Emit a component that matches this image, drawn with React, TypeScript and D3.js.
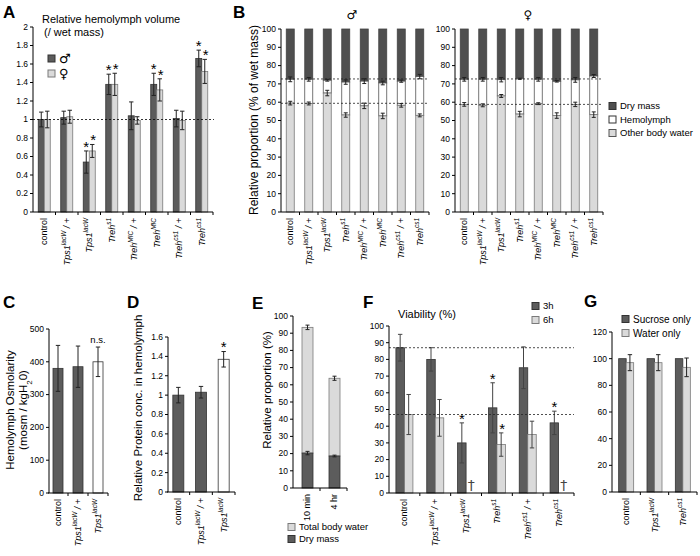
import React from "react";
import * as d3 from "d3";

const FONT = "Liberation Sans, Arial, sans-serif";
const DARK = "#5c5c5c";
const DARK_STROKE = "#333333";
const LIGHT = "#dadada";
const LIGHT_STROKE = "#7a7a7a";
const WHITE = "#ffffff";

// ---------- label parts ----------
const LABELS: Record<string, [string, string, string]> = {
  control: ["control", "", ""],
  "Tps1lacW / +": ["Tps1", "lacW", " / +"],
  Tps1lacW: ["Tps1", "lacW", ""],
  Trehs1: ["Treh", "s1", ""],
  "TrehMIC / +": ["Treh", "MIC", " / +"],
  TrehMIC: ["Treh", "MIC", ""],
  "Trehcs1 / +": ["Treh", "cs1", " / +"],
  Trehcs1: ["Treh", "cs1", ""],
  "10 min": ["10 min", "", ""],
  "4 hr": ["4 hr", "", ""],
};

// ---------- Panel A ----------
const catsA = ["control", "Tps1lacW / +", "Tps1lacW", "Trehs1", "TrehMIC / +", "TrehMIC", "Trehcs1 / +", "Trehcs1"];
const maleA = [1.0, 1.02, 0.54, 1.38, 1.04, 1.38, 1.01, 1.66];
const maleErrA = [0.08, 0.07, 0.12, 0.11, 0.15, 0.12, 0.09, 0.09];
const femaleA = [1.0, 1.03, 0.66, 1.38, 0.99, 1.32, 0.99, 1.52];
const femaleErrA = [0.09, 0.07, 0.07, 0.12, 0.04, 0.12, 0.1, 0.13];
const starsMaleA = [false, false, true, true, false, true, false, true];
const starsFemaleA = [false, false, true, true, false, true, false, true];
const ticksA = [0, 0.2, 0.4, 0.6, 0.8, 1, 1.2, 1.4, 1.6, 1.8, 2];

// ---------- Panel B ----------
const catsB = catsA;
const maleOther = [59.5, 59.3, 65.0, 53.0, 58.0, 52.5, 58.3, 52.8];
const maleOtherErr = [1.0, 0.8, 1.5, 1.2, 1.5, 1.5, 1.0, 0.8];
const maleHemoTop = [72.5, 72.5, 72.0, 71.0, 71.5, 70.5, 71.5, 74.0];
const maleHemoErr = [1.3, 1.0, 0.5, 1.2, 1.3, 1.0, 0.6, 1.2];
const femaleOther = [58.8, 58.3, 63.4, 53.5, 59.2, 52.7, 58.8, 53.2];
const femaleOtherErr = [1.0, 0.8, 0.8, 1.5, 0.5, 1.5, 1.2, 1.5];
const femaleHemoTop = [72.5, 72.5, 72.3, 72.8, 72.5, 71.4, 72.2, 74.3];
const femaleHemoErr = [1.0, 1.0, 1.2, 0.3, 1.0, 0.4, 1.3, 0.8];
const refMaleB = [72.7, 59.4];
const refFemaleB = [72.7, 58.8];
const ticksB = [0, 10, 20, 30, 40, 50, 60, 70, 80, 90, 100];

// ---------- Panel C ----------
const catsC = ["control", "Tps1lacW / +", "Tps1lacW"];
const valsC = [380, 385, 400];
const errC = [70, 63, 45];
const ticksC = [0, 100, 200, 300, 400, 500];

// ---------- Panel D ----------
const catsD = ["control", "Tps1lacW / +", "Tps1lacW"];
const valsD = [1.0, 1.03, 1.37];
const errD = [0.08, 0.06, 0.08];
const ticksD = [0, 0.2, 0.4, 0.6, 0.8, 1, 1.2, 1.4, 1.6];

// ---------- Panel E ----------
const catsE = ["10 min", "4 hr"];
const dryE = [20.3, 18.6];
const dryErrE = [1.0, 0.5];
const totalE = [93.4, 63.8];
const totalErrE = [1.3, 1.2];
const ticksE = [0, 10, 20, 30, 40, 50, 60, 70, 80, 90, 100];

// ---------- Panel F ----------
const catsF = ["control", "Tps1lacW / +", "Tps1lacW", "Trehs1", "Trehcs1 / +", "Trehcs1"];
const h3F = [87, 80, 30, 51, 75, 42];
const h3ErrF = [8, 7, 12, 15, 12.5, 7];
const h6F = [47, 45, 0, 29, 35, 0];
const h6ErrF = [12, 11, 0, 7, 8, 0];
const stars3F = [false, false, true, true, false, true];
const stars6F = [false, false, false, true, false, false];
const dagger6F = [false, false, true, false, false, true];
const refF = [87, 47];
const ticksF = [0, 10, 20, 30, 40, 50, 60, 70, 80, 90, 100];

// ---------- Panel G ----------
const catsG = ["control", "Tps1lacW", "Trehcs1"];
const sucroseG = [100, 100, 100];
const waterG = [97, 97, 93.5];
const waterErrG = [6, 6, 7];
const ticksG = [0, 20, 40, 60, 80, 100, 120];

type Lin = d3.ScaleLinear<number, number>;
type Band = d3.ScaleBand<string>;

function XLabel({ x, y, name, fs = 9 }: { x: number; y: number; name: string; fs?: number }) {
  const parts = LABELS[name] || [name, "", ""];
  const [b, s, t] = parts;
  const italic = s !== "";
  return (
    <text
      transform={`translate(${x},${y}) rotate(-90)`}
      textAnchor="end"
      dominantBaseline="central"
      fontSize={fs}
      fontStyle={italic ? "italic" : "normal"}
    >
      {b}
      {s && (
        <tspan baselineShift="super" fontSize={fs * 0.72}>
          {s}
        </tspan>
      )}
      {t && <tspan>{t}</tspan>}
    </text>
  );
}

function YAxis({ x, scale, ticks, fs = 8.5 }: { x: number; scale: Lin; ticks: number[]; fs?: number }) {
  const [r0, r1] = scale.range();
  return (
    <g>
      <line x1={x} x2={x} y1={r0} y2={r1} stroke="#000" strokeWidth={1} />
      {ticks.map((t) => (
        <g key={t}>
          <line x1={x - 3} x2={x} y1={scale(t)} y2={scale(t)} stroke="#000" />
          <text x={x - 5} y={scale(t)} dy="0.34em" textAnchor="end" fontSize={fs}>
            {String(t)}
          </text>
        </g>
      ))}
    </g>
  );
}

function XAxis({ band, y, fs = 9 }: { band: Band; y: number; fs?: number }) {
  const [a, b] = band.range();
  const step = band.step();
  const dom = band.domain();
  return (
    <g>
      <line x1={a} x2={b} y1={y} y2={y} stroke="#000" />
      {dom.map((d, i) => (
        <line key={"t" + d} x1={a + step * (i + 1)} x2={a + step * (i + 1)} y1={y} y2={y + 3} stroke="#000" />
      ))}
      {dom.map((d) => (
        <XLabel key={d} x={(band(d) as number) + band.bandwidth() / 2} y={y + 6} name={d} fs={fs} />
      ))}
    </g>
  );
}

function ErrBar({ x, y, lo, hi, cap = 2.2, color = "#222" }: { x: number; y: Lin; lo: number; hi: number; cap?: number; color?: string }) {
  return (
    <g stroke={color} strokeWidth={1}>
      <line x1={x} x2={x} y1={y(lo)} y2={y(hi)} />
      <line x1={x - cap} x2={x + cap} y1={y(lo)} y2={y(lo)} />
      <line x1={x - cap} x2={x + cap} y1={y(hi)} y2={y(hi)} />
    </g>
  );
}

function Star({ x, y, fs = 15 }: { x: number; y: number; fs?: number }) {
  return (
    <text x={x} y={y + 1} textAnchor="middle" fontSize={fs}>
      *
    </text>
  );
}

function Swatch({ x, y, fill, stroke, label, fs = 10, size = 8, labelFont }: { x: number; y: number; fill: string; stroke: string; label: string; fs?: number; size?: number; labelFont?: string }) {
  return (
    <g>
      <rect x={x} y={y - size / 2} width={size} height={size} fill={fill} stroke={stroke} />
      <text x={x + size + 4} y={y} dy="0.35em" fontSize={fs} fontFamily={labelFont}>
        {label}
      </text>
    </g>
  );
}

const SYM_FONT = "DejaVu Sans, sans-serif";

function PanelA() {
  const x = d3.scaleBand<string>().domain(catsA).range([33, 213]);
  const y = d3.scaleLinear().domain([0, 2]).range([212, 27]);
  const w = 6;
  return (
    <g>
      <text x={42} y={23} fontSize={11}>Relative hemolymph volume</text>
      <text x={44} y={36} fontSize={11}>(/ wet mass)</text>
      <Swatch x={48} y={58.5} fill={DARK} stroke={DARK_STROKE} label="♂" size={7} fs={13} labelFont={SYM_FONT} />
      <Swatch x={48} y={73.5} fill={LIGHT} stroke={LIGHT_STROKE} label="♀" size={7} fs={13} labelFont={SYM_FONT} />
      {catsA.map((c, i) => {
        const cx = (x(c) as number) + x.bandwidth() / 2;
        return (
          <g key={c}>
            <rect x={cx - w} y={y(maleA[i])} width={w} height={y(0) - y(maleA[i])} fill={DARK} stroke={DARK_STROKE} strokeWidth={0.8} />
            <rect x={cx} y={y(femaleA[i])} width={w} height={y(0) - y(femaleA[i])} fill={LIGHT} stroke={LIGHT_STROKE} strokeWidth={0.8} />
            <ErrBar x={cx - w / 2} y={y} lo={maleA[i] - maleErrA[i]} hi={maleA[i] + maleErrA[i]} />
            <ErrBar x={cx + w / 2} y={y} lo={femaleA[i] - femaleErrA[i]} hi={femaleA[i] + femaleErrA[i]} />
            {starsMaleA[i] && <Star x={cx - w / 2} y={y(maleA[i] + maleErrA[i])} />}
            {starsFemaleA[i] && <Star x={cx + w / 2 + 1} y={y(femaleA[i] + femaleErrA[i])} />}
          </g>
        );
      })}
      <line x1={33} x2={214} y1={y(1)} y2={y(1)} stroke="#000" strokeDasharray="2,2" strokeWidth={0.8} />
      <YAxis x={33} scale={y} ticks={ticksA} />
      <XAxis band={x} y={212} />
    </g>
  );
}

function StackB({ x0, x1, other, otherErr, hemo, hemoErr, refs, sym, symX }: { x0: number; x1: number; other: number[]; otherErr: number[]; hemo: number[]; hemoErr: number[]; refs: number[]; sym: string; symX: number }) {
  const x = d3.scaleBand<string>().domain(catsB).range([x0, x1]);
  const y = d3.scaleLinear().domain([0, 100]).range([212, 29]);
  const w = 8;
  return (
    <g>
      <text x={symX} y={19} fontSize={12} textAnchor="middle" fontFamily={SYM_FONT}>{sym}</text>
      {catsB.map((c, i) => {
        const cx = (x(c) as number) + x.bandwidth() / 2;
        return (
          <g key={c}>
            <rect x={cx - w / 2} y={y(100)} width={w} height={y(hemo[i]) - y(100)} fill="#4f4f4f" stroke="#444" strokeWidth={0.8} />
            <rect x={cx - w / 2} y={y(hemo[i])} width={w} height={y(other[i]) - y(hemo[i])} fill={WHITE} stroke="#555" strokeWidth={0.8} />
            <rect x={cx - w / 2} y={y(other[i])} width={w} height={y(0) - y(other[i])} fill={LIGHT} stroke={LIGHT_STROKE} strokeWidth={0.8} />
            <ErrBar x={cx} y={y} lo={hemo[i] - hemoErr[i]} hi={hemo[i] + hemoErr[i]} cap={2} />
            <ErrBar x={cx} y={y} lo={other[i] - otherErr[i]} hi={other[i] + otherErr[i]} cap={2} />
          </g>
        );
      })}
      {refs.map((r) => (
        <line key={r} x1={x0} x2={x1} y1={y(r)} y2={y(r)} stroke="#222" strokeDasharray="2,2" strokeWidth={0.8} />
      ))}
      <YAxis x={x0} scale={y} ticks={ticksB} />
      <XAxis band={x} y={212} />
    </g>
  );
}

function PanelB() {
  return (
    <g>
      <text transform="translate(258,120) rotate(-90)" textAnchor="middle" fontSize={12}>
        Relative proportion (% of wet mass)
      </text>
      <StackB x0={281} x1={429} other={maleOther} otherErr={maleOtherErr} hemo={maleHemoTop} hemoErr={maleHemoErr} refs={refMaleB} sym="♂" symX={352} />
      <StackB x0={455} x1={603} other={femaleOther} otherErr={femaleOtherErr} hemo={femaleHemoTop} hemoErr={femaleHemoErr} refs={refFemaleB} sym="♀" symX={528} />
      <Swatch x={609} y={106} fill="#4f4f4f" stroke="#333" label="Dry mass" size={7} fs={9.5} />
      <Swatch x={609} y={119.5} fill={WHITE} stroke="#333" label="Hemolymph" size={7} fs={9.5} />
      <Swatch x={609} y={133} fill={LIGHT} stroke="#555" label="Other body water" size={7} fs={9.5} />
    </g>
  );
}

function PanelC() {
  const x = d3.scaleBand<string>().domain(catsC).range([48, 108]);
  const y = d3.scaleLinear().domain([0, 500]).range([493, 329]);
  const w = 10;
  const fills = [DARK, DARK, WHITE];
  return (
    <g>
      <text transform="translate(14,410) rotate(-90)" textAnchor="middle" fontSize={11.5}>Hemolymph Osmolarity</text>
      <text transform="translate(27,410) rotate(-90)" textAnchor="middle" fontSize={11.5}>
        (mosm / kgH<tspan baselineShift="sub" fontSize={8}>2</tspan>0)
      </text>
      {catsC.map((c, i) => {
        const cx = (x(c) as number) + x.bandwidth() / 2;
        return (
          <g key={c}>
            <rect x={cx - w / 2} y={y(valsC[i])} width={w} height={y(0) - y(valsC[i])} fill={fills[i]} stroke={DARK_STROKE} strokeWidth={0.8} />
            <ErrBar x={cx} y={y} lo={valsC[i] - errC[i]} hi={valsC[i] + errC[i]} />
          </g>
        );
      })}
      <text x={98} y={343} textAnchor="middle" fontSize={9.5}>n.s.</text>
      <YAxis x={49} scale={y} ticks={ticksC} />
      <XAxis band={x} y={493} />
    </g>
  );
}

function PanelD() {
  const x = d3.scaleBand<string>().domain(catsD).range([167, 235]);
  const y = d3.scaleLinear().domain([0, 1.6]).range([492, 337]);
  const w = 11;
  const fills = [DARK, DARK, WHITE];
  return (
    <g>
      <text transform="translate(142,408) rotate(-90)" textAnchor="middle" fontSize={11.5}>Relative Protein conc. in hemolymph</text>
      {catsD.map((c, i) => {
        const cx = (x(c) as number) + x.bandwidth() / 2;
        return (
          <g key={c}>
            <rect x={cx - w / 2} y={y(valsD[i])} width={w} height={y(0) - y(valsD[i])} fill={fills[i]} stroke={DARK_STROKE} strokeWidth={0.8} />
            <ErrBar x={cx} y={y} lo={valsD[i] - errD[i]} hi={valsD[i] + errD[i]} />
          </g>
        );
      })}
      <Star x={(x(catsD[2]) as number) + x.bandwidth() / 2} y={y(valsD[2] + errD[2]) - 1} />
      <YAxis x={168} scale={y} ticks={ticksD} />
      <XAxis band={x} y={492} />
    </g>
  );
}

function PanelE() {
  const x = d3.scaleBand<string>().domain(catsE).range([293, 347]);
  const y = d3.scaleLinear().domain([0, 100]).range([488, 316]);
  const w = 11;
  return (
    <g>
      <text transform="translate(271,390) rotate(-90)" textAnchor="middle" fontSize={11.5}>Relative proportion (%)</text>
      {catsE.map((c, i) => {
        const cx = (x(c) as number) + x.bandwidth() / 2 + 1;
        return (
          <g key={c}>
            <rect x={cx - w / 2} y={y(totalE[i])} width={w} height={y(dryE[i]) - y(totalE[i])} fill={LIGHT} stroke={LIGHT_STROKE} strokeWidth={0.8} />
            <rect x={cx - w / 2} y={y(dryE[i])} width={w} height={y(0) - y(dryE[i])} fill={DARK} stroke={DARK_STROKE} strokeWidth={0.8} />
            <ErrBar x={cx} y={y} lo={totalE[i] - totalErrE[i]} hi={totalE[i] + totalErrE[i]} cap={2} />
            <ErrBar x={cx} y={y} lo={dryE[i] - dryErrE[i]} hi={dryE[i] + dryErrE[i]} cap={2} />
          </g>
        );
      })}
      <YAxis x={293} scale={y} ticks={ticksE} />
      <XAxis band={x} y={488} fs={9} />
      <Swatch x={288} y={527} fill={LIGHT} stroke={LIGHT_STROKE} label="Total body water" size={7} fs={9.5} />
      <Swatch x={288} y={539} fill={DARK} stroke={DARK_STROKE} label="Dry mass" size={7} fs={9.5} />
    </g>
  );
}

function PanelF() {
  const x = d3.scaleBand<string>().domain(catsF).range([389, 574]);
  const y = d3.scaleLinear().domain([0, 100]).range([493, 326]);
  const w = 8.5;
  return (
    <g>
      <text x={398} y={318} fontSize={11}>Viability (%)</text>
      <Swatch x={532} y={306} fill={DARK} stroke={DARK_STROKE} label="3h" size={7} fs={9.5} />
      <Swatch x={532} y={320} fill={LIGHT} stroke={LIGHT_STROKE} label="6h" size={7} fs={9.5} />
      {catsF.map((c, i) => {
        const cx = (x(c) as number) + x.bandwidth() / 2;
        return (
          <g key={c}>
            <rect x={cx - w} y={y(h3F[i])} width={w} height={y(0) - y(h3F[i])} fill={DARK} stroke={DARK_STROKE} strokeWidth={0.8} />
            {h6F[i] > 0 && <rect x={cx} y={y(h6F[i])} width={w} height={y(0) - y(h6F[i])} fill={LIGHT} stroke={LIGHT_STROKE} strokeWidth={0.8} />}
            <ErrBar x={cx - w / 2} y={y} lo={h3F[i] - h3ErrF[i]} hi={h3F[i] + h3ErrF[i]} color="#444" />
            {h6F[i] > 0 && <ErrBar x={cx + w / 2} y={y} lo={h6F[i] - h6ErrF[i]} hi={h6F[i] + h6ErrF[i]} color="#444" />}
            {stars3F[i] && <Star x={cx - w / 2} y={y(h3F[i] + h3ErrF[i])} />}
            {stars6F[i] && <Star x={cx + w / 2 + 1} y={y(h6F[i] + h6ErrF[i])} />}
            {dagger6F[i] && (
              <text x={cx + w / 2 + 1} y={y(0) - 3} textAnchor="middle" fontSize={14} fill="#444" fontFamily={SYM_FONT}>†</text>
            )}
          </g>
        );
      })}
      {refF.map((r) => (
        <line key={r} x1={389} x2={574} y1={y(r)} y2={y(r)} stroke="#222" strokeDasharray="2,2" strokeWidth={0.8} />
      ))}
      <YAxis x={389} scale={y} ticks={ticksF} />
      <XAxis band={x} y={493} />
    </g>
  );
}

function PanelG() {
  const x = d3.scaleBand<string>().domain(catsG).range([612, 697]);
  const y = d3.scaleLinear().domain([0, 120]).range([492, 332]);
  const w = 7.5;
  return (
    <g>
      <Swatch x={622} y={319} fill={DARK} stroke={DARK_STROKE} label="Sucrose only" size={7} fs={10} />
      <Swatch x={622} y={333} fill={LIGHT} stroke={LIGHT_STROKE} label="Water only" size={7} fs={10} />
      {catsG.map((c, i) => {
        const cx = (x(c) as number) + x.bandwidth() / 2;
        return (
          <g key={c}>
            <rect x={cx - w} y={y(sucroseG[i])} width={w} height={y(0) - y(sucroseG[i])} fill={DARK} stroke={DARK_STROKE} strokeWidth={0.8} />
            <rect x={cx} y={y(waterG[i])} width={w} height={y(0) - y(waterG[i])} fill={LIGHT} stroke={LIGHT_STROKE} strokeWidth={0.8} />
            <ErrBar x={cx + w / 2} y={y} lo={waterG[i] - waterErrG[i]} hi={waterG[i] + waterErrG[i]} />
          </g>
        );
      })}
      <YAxis x={612} scale={y} ticks={ticksG} />
      <XAxis band={x} y={492} />
    </g>
  );
}

export default function App() {
  const letter = (t: string, x: number, y: number) => (
    <text x={x} y={y} fontSize={17} fontWeight="bold">{t}</text>
  );
  return (
    <svg
      width={700}
      height={556}
      viewBox="0 0 700 556"
      style={{ position: "absolute", left: 0, top: 0, background: "#fff" }}
      fontFamily={FONT}
    >
      <rect width={700} height={556} fill="#fff" />
      {letter("A", 3, 18)}
      {letter("B", 233, 18)}
      {letter("C", 3, 308)}
      {letter("D", 127, 308)}
      {letter("E", 252, 309)}
      {letter("F", 363, 308)}
      {letter("G", 584, 307)}
      <PanelA />
      <PanelB />
      <PanelC />
      <PanelD />
      <PanelE />
      <PanelF />
      <PanelG />
    </svg>
  );
}
